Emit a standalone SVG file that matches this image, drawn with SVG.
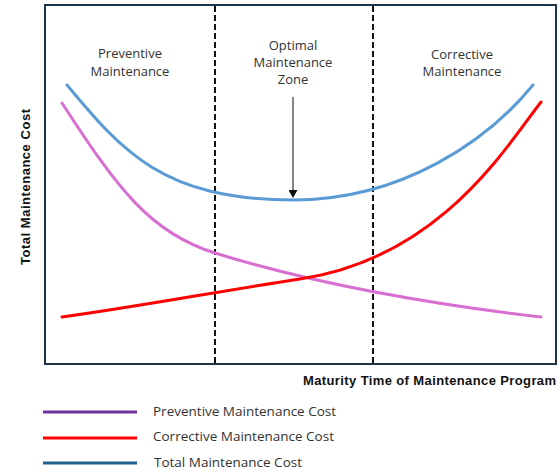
<svg xmlns="http://www.w3.org/2000/svg" width="560" height="472" viewBox="0 0 560 472">
<style>
.lbl{font-family:"Open Sans","Liberation Sans",sans-serif;font-size:13px;fill:#333;text-anchor:middle}
.ax{font-family:"Liberation Sans",Arial,sans-serif;font-size:13px;font-weight:bold;fill:#111}
.leg{font-family:"Open Sans","Liberation Sans",sans-serif;font-size:13.5px;fill:#333}
.curve{fill:none;stroke-width:3;stroke-linecap:round}
.dash{stroke:#111;stroke-width:2;stroke-dasharray:6 3}
</style>
<defs>
<marker id="ah" markerWidth="8" markerHeight="9" refX="7" refY="4.5" orient="auto" markerUnits="userSpaceOnUse">
<path d="M0,0 L8,4.5 L0,9 Z" fill="#111"/>
</marker>
</defs>
<rect x="45" y="5" width="511" height="359" fill="#fff" stroke="#1b3447" stroke-width="2"/>
<g id="dividers">
<line class="dash" x1="215" y1="6" x2="215" y2="363"/>
<line class="dash" x1="373" y1="6" x2="373" y2="363"/>
</g>
<g id="labels">
<text class="lbl" x="130" y="58">Preventive</text>
<text class="lbl" x="130" y="76">Maintenance</text>
<text class="lbl" x="293" y="50">Optimal</text>
<text class="lbl" x="293" y="67">Maintenance</text>
<text class="lbl" x="293" y="84">Zone</text>
<text class="lbl" x="462" y="59">Corrective</text>
<text class="lbl" x="462" y="76">Maintenance</text>
</g>
<g id="curves">
<path id="total" class="curve" stroke="#5b9bd5" d="M67,85 C122,151 163,200 293,200 C403,200 488,140 533,85"/>
<path id="preventive" class="curve" stroke="#d870d2" d="M62,103 C117,188 150,233 215,253 C315,284 421,303 541,317"/>
<path id="corrective" class="curve" stroke="#ff0000" d="M62,317 C142,306 220,291 300,279 C440,258 506,147 541,102"/>
</g>
<g id="connectors">
<line x1="293" y1="97" x2="293" y2="197" stroke="#333" stroke-width="1.2" marker-end="url(#ah)"/>
</g>
<g id="axes">
<text class="ax" x="556" y="385" text-anchor="end" textLength="253">Maturity Time of Maintenance Program</text>
<text class="ax" transform="translate(30,187) rotate(-90)" text-anchor="middle" textLength="156">Total Maintenance Cost</text>
</g>
<g id="legend">
<line x1="43" y1="412" x2="137" y2="412" stroke="#7030a0" stroke-width="3"/>
<line x1="43" y1="438" x2="137" y2="438" stroke="#ff0000" stroke-width="3"/>
<line x1="43" y1="463" x2="137" y2="463" stroke="#1f618d" stroke-width="3"/>
<text class="leg" x="153" y="416">Preventive Maintenance Cost</text>
<text class="leg" x="153" y="441">Corrective Maintenance Cost</text>
<text class="leg" x="154" y="467">Total Maintenance Cost</text>
</g>
</svg>
